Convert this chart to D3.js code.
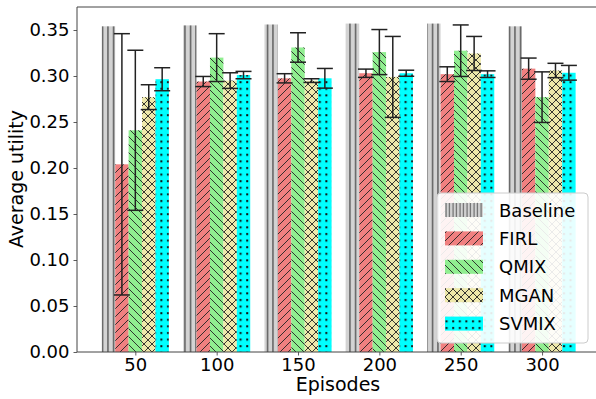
<!DOCTYPE html>
<html>
<head>
<meta charset="utf-8">
<script src="https://cdn.jsdelivr.net/npm/d3@7"></script>
<style>
  body { margin: 0; background: #fff; }
  text { font-family: "DejaVu Sans", sans-serif; fill: #000; }
</style>
</head>
<body>
<svg id="chart" width="596" height="399"></svg>
<script>
"use strict";

// data
var episodes = ["50", "100", "150", "200", "250", "300"];
var seriesNames = ["Baseline", "FIRL", "QMIX", "MGAN", "SVMIX"];
var baseline = [0.354, 0.355, 0.356, 0.357, 0.357, 0.354];
var firl = [0.204, 0.294, 0.2975, 0.303, 0.302, 0.308];
var firlErr = [0.142, 0.0055, 0.005, 0.0045, 0.008, 0.0115];
var qmix = [0.241, 0.320, 0.331, 0.326, 0.3275, 0.277];
var qmixErr = [0.087, 0.026, 0.016, 0.0245, 0.028, 0.0275];
var mgan = [0.277, 0.295, 0.295, 0.299, 0.3245, 0.306];
var mganErr = [0.0135, 0.0085, 0.002, 0.044, 0.0185, 0.0078];
var svmix = [0.2965, 0.301, 0.2975, 0.303, 0.302, 0.3035];
var svmixErr = [0.0125, 0.004, 0.0107, 0.0033, 0.0036, 0.008];
var yTicks = [0, 0.05, 0.10, 0.15, 0.20, 0.25, 0.30, 0.35];

var values = [baseline, firl, qmix, mgan, svmix];
var errors = [null, firlErr, qmixErr, mganErr, svmixErr];
var fills = ["#d3d3d3", "#f08080", "#90ee90", "#eee8aa", "#00ffff"];

var svg = d3.select("#chart");
var mLeft = 77, mTop = 7, mBottom = 352, mRight = 599;

var x = d3.scaleLinear().domain([-0.717, 5.7]).range([mLeft, mRight]);
var y = d3.scaleLinear().domain([0, 0.375]).range([mBottom, mTop]);
var barW = 0.165;

// hatch patterns
var defs = svg.append("defs");

var pBase = defs.append("pattern").attr("id", "h0")
  .attr("patternUnits", "userSpaceOnUse").attr("width", 5.5).attr("height", 10);
pBase.append("rect").attr("width", 5.5).attr("height", 10).attr("fill", fills[0]);
pBase.append("line").attr("x1", 3.5).attr("x2", 3.5).attr("y1", 0).attr("y2", 10)
  .attr("stroke", "#555").attr("stroke-width", 1.4);

// legend version of the baseline hatch is denser
var pBaseL = defs.append("pattern").attr("id", "h0l")
  .attr("patternUnits", "userSpaceOnUse").attr("width", 3.5).attr("height", 10);
pBaseL.append("rect").attr("width", 3.5).attr("height", 10).attr("fill", fills[0]);
pBaseL.append("line").attr("x1", 2).attr("x2", 2).attr("y1", 0).attr("y2", 10)
  .attr("stroke", "#555").attr("stroke-width", 1);

var pF = defs.append("pattern").attr("id", "h1")
  .attr("patternUnits", "userSpaceOnUse").attr("width", 8).attr("height", 8);
pF.append("rect").attr("width", 8).attr("height", 8).attr("fill", fills[1]);
pF.append("path").attr("d", "M0,8L8,0M-2,2L2,-2M6,10L10,6")
  .attr("stroke", "#222").attr("stroke-width", 0.9);

var pQ = defs.append("pattern").attr("id", "h2")
  .attr("patternUnits", "userSpaceOnUse").attr("width", 8).attr("height", 8);
pQ.append("rect").attr("width", 8).attr("height", 8).attr("fill", fills[2]);
pQ.append("path").attr("d", "M0,0L8,8M-2,6L2,10M6,-2L10,2")
  .attr("stroke", "#222").attr("stroke-width", 0.9);

var pM = defs.append("pattern").attr("id", "h3")
  .attr("patternUnits", "userSpaceOnUse").attr("width", 8).attr("height", 8);
pM.append("rect").attr("width", 8).attr("height", 8).attr("fill", fills[3]);
pM.append("path").attr("d", "M0,0L8,8M-2,6L2,10M6,-2L10,2M0,8L8,0M-2,2L2,-2M6,10L10,6")
  .attr("stroke", "#222").attr("stroke-width", 0.9);

var pS = defs.append("pattern").attr("id", "h4")
  .attr("patternUnits", "userSpaceOnUse").attr("width", 6.6).attr("height", 6.6);
pS.append("rect").attr("width", 6.6).attr("height", 6.6).attr("fill", fills[4]);
pS.append("rect").attr("x", 2).attr("y", 2).attr("width", 2).attr("height", 2).attr("fill", "#111");

// bars
seriesNames.forEach(function (name, s) {
  var off = (s - 2) * barW;
  svg.append("g").selectAll("rect")
    .data(values[s])
    .join("rect")
    .attr("x", function (d, i) { return x(i + off - barW / 2); })
    .attr("width", x(barW) - x(0))
    .attr("y", function (d) { return y(d); })
    .attr("height", function (d) { return y(0) - y(d); })
    .attr("fill", "url(#h" + s + ")");
});

// error bars
seriesNames.forEach(function (name, s) {
  if (!errors[s]) return;
  var off = (s - 2) * barW;
  var g = svg.append("g").attr("stroke", "#222").attr("stroke-width", 1.5);
  values[s].forEach(function (v, i) {
    var cx = x(i + off), e = errors[s][i];
    g.append("line").attr("x1", cx).attr("x2", cx).attr("y1", y(v - e)).attr("y2", y(v + e));
    g.append("line").attr("x1", cx - 8).attr("x2", cx + 8).attr("y1", y(v - e)).attr("y2", y(v - e));
    g.append("line").attr("x1", cx - 8).attr("x2", cx + 8).attr("y1", y(v + e)).attr("y2", y(v + e));
  });
});

// axes
var yAxis = svg.append("g").attr("transform", "translate(" + mLeft + ",0)")
  .call(d3.axisLeft(y).tickValues(yTicks).tickFormat(d3.format(".2f")).tickSize(3.5).tickPadding(4));
var xAxis = svg.append("g").attr("transform", "translate(0," + mBottom + ")")
  .call(d3.axisBottom(x).tickValues(d3.range(episodes.length))
    .tickFormat(function (i) { return episodes[i]; }).tickSize(3.5).tickPadding(3));
[yAxis, xAxis].forEach(function (a) {
  a.select(".domain").remove();
  a.selectAll("line").attr("stroke", "#333").attr("stroke-width", 0.8);
  a.selectAll("text").attr("font-size", 18).attr("font-family", "DejaVu Sans").attr("fill", "#000");
});

svg.append("path")
  .attr("d", "M" + mLeft + "," + mTop + "L" + mLeft + "," + mBottom + "L596," + mBottom
    + "M" + mLeft + "," + mTop + "L596," + mTop)
  .attr("fill", "none").attr("stroke", "#444").attr("stroke-width", 1);

svg.append("text").attr("x", 338).attr("y", 391).attr("text-anchor", "middle")
  .attr("font-size", 19).text("Episodes");
svg.append("text").attr("transform", "translate(23,179) rotate(-90)").attr("text-anchor", "middle")
  .attr("font-size", 19).text("Average utility");

// legend
var lg = svg.append("g").attr("transform", "translate(437,193)");
lg.append("rect").attr("width", 151).attr("height", 150).attr("rx", 4)
  .attr("fill", "#fff").attr("fill-opacity", 0.9).attr("stroke", "#ccc");
seriesNames.forEach(function (name, s) {
  var cy = 17 + s * 28.4;
  lg.append("rect").attr("x", 8).attr("y", cy - 7).attr("width", 38).attr("height", 14)
    .attr("fill", s === 0 ? "url(#h0l)" : "url(#h" + s + ")");
  lg.append("text").attr("x", 62).attr("y", cy + 6.5).attr("font-size", 18).text(name);
});
</script>
</body>
</html>
